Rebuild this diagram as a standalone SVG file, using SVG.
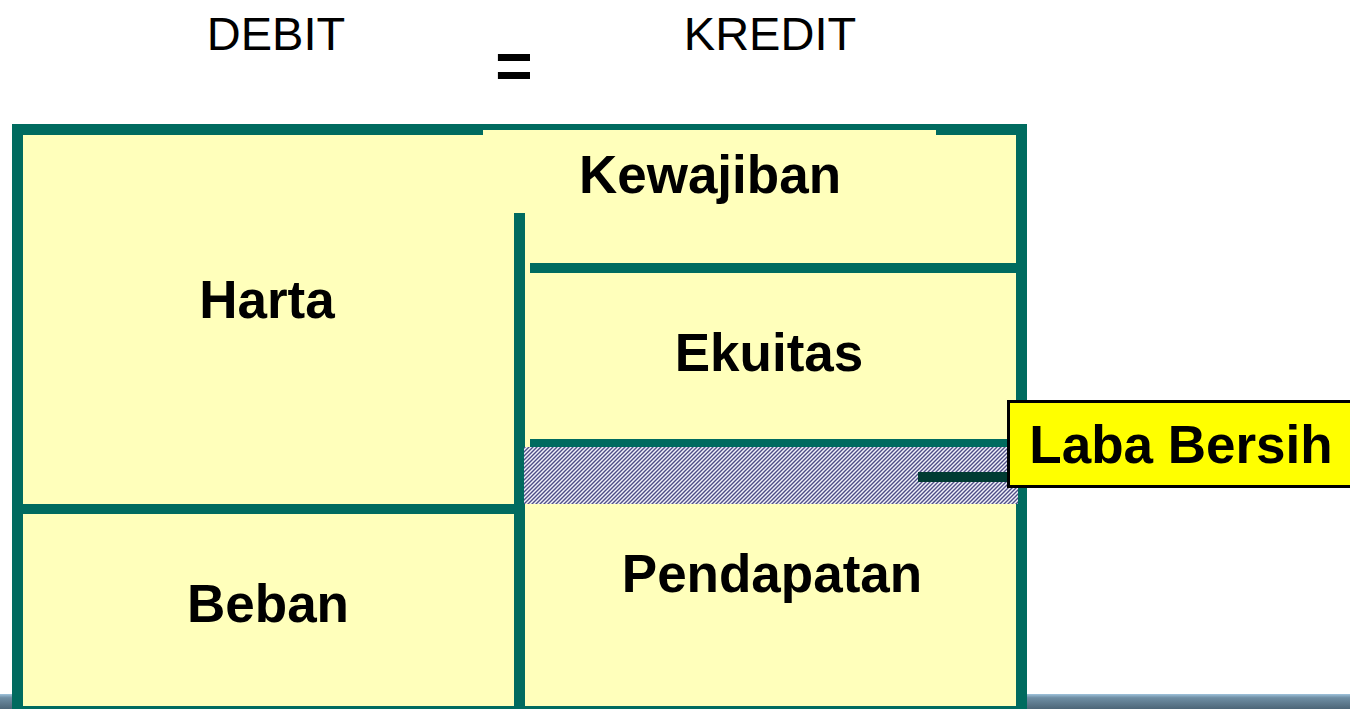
<svg xmlns="http://www.w3.org/2000/svg" width="1350" height="709" viewBox="0 0 1350 709">
<style>
.hdr{font-family:"Liberation Sans",Arial,sans-serif;font-size:47px;fill:#000;text-anchor:middle}
.lbl{font-family:"Liberation Sans",Arial,sans-serif;font-size:53px;font-weight:bold;fill:#000;text-anchor:middle}
.grn{fill:#006B5F}
</style>
<defs>
<pattern id="hatch" patternUnits="userSpaceOnUse" width="4" height="4">
<rect width="4" height="4" fill="#f2f2fa"/>
<path d="M-1,1 L1,-1 M0,4 L4,0 M3,5 L5,3" stroke="#4e4e86" stroke-width="1.4"/>
</pattern>
<linearGradient id="band" x1="0" y1="0" x2="0" y2="1">
<stop offset="0" stop-color="#9fc3dc"/>
<stop offset="0.25" stop-color="#6f8ea4"/>
<stop offset="1" stop-color="#4d6678"/>
</linearGradient>
</defs>
<rect width="1350" height="709" fill="#ffffff"/>
<rect x="1027" y="694" width="323" height="15" fill="url(#band)"/>
<rect x="0" y="694" width="13" height="15" fill="url(#band)"/>
<g id="headers">
<text class="hdr" x="276" y="50">DEBIT</text>
<text class="hdr" x="770" y="50">KREDIT</text>
<text class="hdr" x="514" y="88" style="font-weight:bold;font-size:64px">=</text>
</g>
<g id="frame">
<rect x="17.5" y="129.5" width="1004" height="582" fill="#FFFFBB" stroke="#006B5F" stroke-width="11"/>
<rect x="483" y="130" width="453" height="6" fill="#FFFFBB"/>
<rect class="grn" x="514" y="213" width="11" height="500"/>
</g>
<g id="harta">
<text class="lbl" x="267" y="318">Harta</text>
</g>
<g id="beban">
<rect class="grn" x="22" y="504" width="493" height="10"/>
<text class="lbl" x="268" y="622">Beban</text>
</g>
<g id="kewajiban">
<text class="lbl" x="710" y="193">Kewajiban</text>
</g>
<g id="ekuitas">
<rect class="grn" x="530" y="263" width="486" height="10"/>
<text class="lbl" x="769" y="371">Ekuitas</text>
</g>
<g id="laba-area">
<rect class="grn" x="530" y="439" width="487" height="8"/>
<rect x="524" y="447" width="494" height="57" fill="url(#hatch)"/>
</g>
<g id="pendapatan">
<text class="lbl" x="772" y="592">Pendapatan</text>
</g>
<g id="connectors">
<rect x="918" y="472" width="90" height="10" fill="#003B33"/>
</g>
<g id="laba-bersih">
<rect x="1008.5" y="401.5" width="345" height="85" fill="#FFFF00" stroke="#000" stroke-width="3"/>
<text class="lbl" x="1181" y="463">Laba Bersih</text>
</g>
</svg>
